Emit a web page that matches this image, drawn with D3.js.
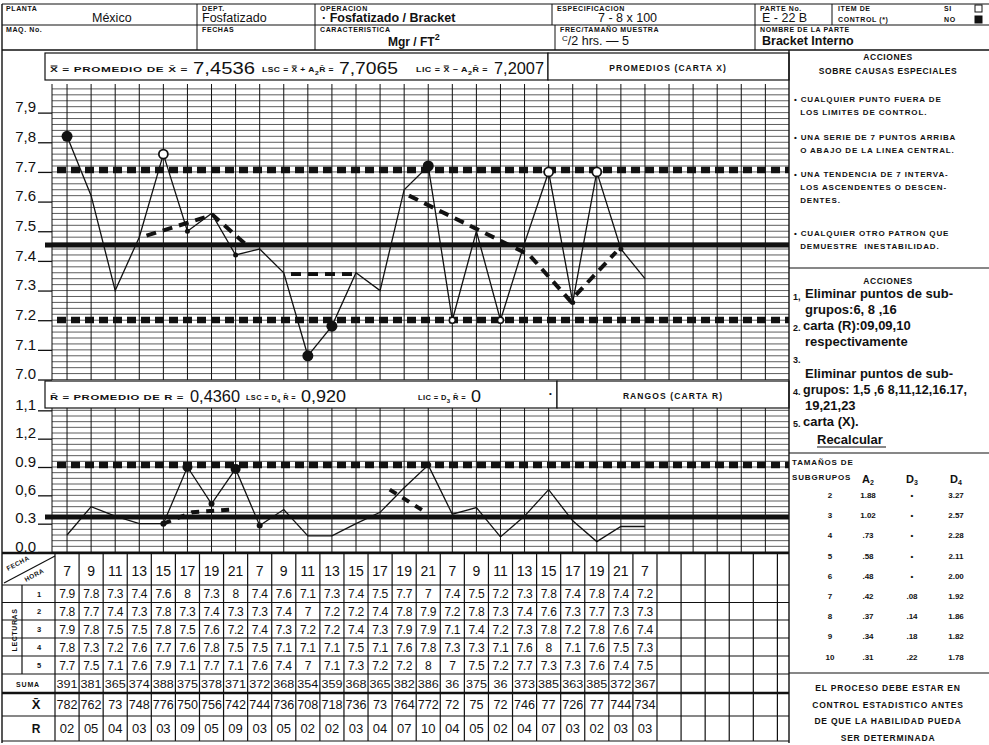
<!DOCTYPE html>
<html><head><meta charset="utf-8">
<script src="https://cdn.jsdelivr.net/npm/d3@7"></script>
<style>
body{margin:0;background:#fff;}
svg{display:block;font-family:"Liberation Sans",Arial,sans-serif;}
</style></head><body>
<svg id="c" width="989" height="745"></svg>
<script>
// ---------------- DATA ----------------
const hours=[7,9,11,13,15,17,19,21,7,9,11,13,15,17,19,21,7,9,11,13,15,17,19,21,7];
const reading1=[7.9,7.8,7.3,7.4,7.6,8,7.3,8,7.4,7.6,7.1,7.3,7.4,7.5,7.7,7,7.4,7.5,7.2,7.3,7.8,7.4,7.8,7.4,7.2];
const reading2=[7.8,7.7,7.4,7.3,7.8,7.3,7.4,7.3,7.3,7.4,7,7.2,7.2,7.4,7.8,7.9,7.2,7.8,7.3,7.4,7.6,7.3,7.7,7.3,7.3];
const reading3=[7.9,7.8,7.5,7.5,7.8,7.5,7.6,7.2,7.4,7.3,7.2,7.2,7.4,7.3,7.9,7.9,7.1,7.4,7.2,7.3,7.8,7.2,7.8,7.6,7.4];
const reading4=[7.8,7.3,7.2,7.6,7.7,7.6,7.8,7.5,7.5,7.1,7.1,7.1,7.5,7.1,7.6,7.8,7.3,7.3,7.1,7.6,8,7.1,7.6,7.5,7.3];
const reading5=[7.7,7.5,7.1,7.6,7.9,7.1,7.7,7.1,7.6,7.4,7,7.1,7.3,7.2,7.2,8,7,7.5,7.2,7.7,7.3,7.3,7.6,7.4,7.5];
const sumaLabels=["391","381","365","374","388","375","378","371","372","368","354","359","368","365","382","386","36","375","36","373","385","363","385","372","367"];
const xbarValues=[7.82,7.62,7.3,7.48,7.76,7.50,7.56,7.42,7.44,7.36,7.08,7.18,7.36,7.3,7.64,7.72,7.2,7.5,7.2,7.46,7.7,7.26,7.7,7.44,7.34];
const xbarLabels=["782","762","73","748","776","750","756","742","744","736","708","718","736","73","764","772","72","75","72","746","77","726","77","744","734"];
const rLabels=["02","05","04","03","03","09","05","09","03","05","02","02","03","04","07","10","04","05","02","04","07","03","02","03","03"];
const rPlotted=[0.18,0.48,0.38,0.3,0.3,0.9,0.51,0.88,0.28,0.45,0.17,0.17,0.3,0.42,0.68,0.92,0.4,0.47,0.16,0.38,0.66,0.33,0.11,0.27,0.27];
// control limits as drawn
const xLimits={lsc:7.7065,center:7.4536,lic:7.2007};
const rLimits={lsc:0.92,center:0.37};
// tick labels
const xTicks=[7.9,7.8,7.7,7.6,7.5,7.4,7.3,7.2,7.1,7.0];
const xTickLabels=["7,9","7,8","7.7","7.6","7.5","7.4","7.3","7.2","7.1","7.0"];
const rTicks=[1.5,1.2,0.9,0.6,0.3,0.0];
const rTickLabels=["1,1","1,2","0.9","0,6","0.3","0.0"];
// hand-drawn trend (dashed) segments [subgroup position, value]
const trendX1=[[4.3,7.485],[7.05,7.555],[8.5,7.45]];
const trendX2=[[10.3,7.356],[13.0,7.356]];
const trendX3=[[15.2,7.62],[20.2,7.42],[21.9,7.265],[23.8,7.43]];
const trendR1=[[5.0,0.3],[6.2,0.42],[7.9,0.45]];
const trendR2=[[14.4,0.66],[15.9,0.42]];
// marked points
const xMarksFilled=[1,11,12,16];
const xMarksOpen=[5,21,23];
const xMarksSmallOpen=[17,19];
const xMarksSmall=[6,8,22,24];
const rMarksFilled=[6,8];
const rMarksSmall=[5,7,9,16];
// constants table
const subgroupSizes=["2","3","4","5","6","7","8","9","10"];
const a2Values=["1.88","1.02",".73",".58",".48",".42",".37",".34",".31"];
const d3Values=["•","•","•","•","•",".08",".14",".18",".22"];
const d4Values=["3.27","2.57","2.28","2.11","2.00","1.92","1.86","1.82","1.78"];

// ---------------- DRAW ----------------
const svg=d3.select("#c");
const ink="#111";
const col=d3.scaleBand().domain(d3.range(1,31)).range([55,55+30*24.08]);
const cx=i=>col(i)+col.bandwidth()/2;
const xPos=d3.scaleLinear().domain([1,25]).range([cx(1),cx(25)]);
const yX=d3.scaleLinear().domain([xLimits.lic,xLimits.lsc]).range([320,170]);
const yR=d3.scaleLinear().domain([0,0.9]).range([552,467]);
const GX0=52, GX1=789;

function ln(g,x1,y1,x2,y2,w,dash){const l=g.append("line").attr("x1",x1).attr("y1",y1).attr("x2",x2).attr("y2",y2).attr("stroke",ink).attr("stroke-width",w||1);if(dash)l.attr("stroke-dasharray",dash);return l;}
function tx(g,x,y,s,o){o=o||{};const t=g.append("text").attr("x",x).attr("y",y).attr("fill",ink)
 .attr("font-size",o.size||10).attr("font-weight",o.weight||"normal").attr("text-anchor",o.anchor||"start")
 .attr("letter-spacing",o.ls||0).text(s);if(o.family)t.attr("font-family",o.family);if(o.len)t.attr("textLength",o.len).attr("lengthAdjust","spacingAndGlyphs");return t;}
// text made of parts; a part ending in "_" is drawn as a subscript
function rich(g,x,y,parts,o){const t=tx(g,x,y,"",o);let sub=false;
  parts.forEach(p=>{const isSub=p.startsWith("_");const s=isSub?p.slice(1):p;
    const ts=t.append("tspan").text(s);
    if(isSub&&!sub){ts.attr("dy",2.5).attr("font-size",(o.size||10)*0.8);sub=true;}
    else if(!isSub&&sub){ts.attr("dy",-2.5);sub=false;}
  });return t;}

const G=svg.append("g");
// ---- header ----
ln(G,2,4,989,4,1.2); ln(G,2,25,989,25,1); ln(G,2,50,989,50,1.4);
ln(G,2,4,2,743,1.4);
[197,315,552,755,832].forEach(x=>ln(G,x,4,x,25,1));
[197,315,555,755].forEach(x=>ln(G,x,25,x,50,1));
const lab={size:7,weight:"bold",ls:0.6};
tx(G,6,11,"PLANTA",lab); tx(G,202,11,"DEPT.",lab); tx(G,320,11,"OPERACION",lab);
tx(G,557,11,"ESPECIFICACION",lab); tx(G,760,11,"PARTE No.",lab);
tx(G,838,11,"ITEM DE",lab); tx(G,838,22,"CONTROL  (*)",lab);
tx(G,944,11,"SI",lab); tx(G,944,22,"NO",lab);
G.append("rect").attr("x",975).attr("y",5).attr("width",7).attr("height",7).attr("fill","none").attr("stroke",ink);
G.append("rect").attr("x",975).attr("y",16).attr("width",7).attr("height",7).attr("fill",ink).attr("stroke",ink);
tx(G,6,32,"MAQ. No.",lab); tx(G,202,32,"FECHAS",lab); tx(G,320,32,"CARACTERISTICA",lab);
tx(G,560,32,"FREC/TAMAÑO MUESTRA",lab); tx(G,760,32,"NOMBRE DE LA PARTE",lab);
const val={size:12.5};
tx(G,92,22,"México",val); tx(G,202,22,"Fosfatizado",val); tx(G,322,22,"·  Fosfatizado / Bracket",{size:12.5,weight:"bold"});
tx(G,598,22,"7 - 8 x 100",val); tx(G,762,22,"E - 22 B",val);
const mg=tx(G,388,46,"Mgr / FT",{size:12,weight:"bold"}); mg.append("tspan").attr("dy",-6).attr("font-size",9).text("2");
const fr=tx(G,562,45,"",{size:12.5}); fr.append("tspan").attr("dy",-4).attr("font-size",8).text("C");
fr.append("tspan").attr("dy",4).text("/2 hrs. — 5");
tx(G,762,45,"Bracket  Interno",{size:12.5,weight:"bold"});

// ---- X chart ----
const gx=svg.append("g");
d3.range(0,50).map(i=>7.0+i*0.02).forEach(v=>ln(gx,GX0,yX(v),GX1,yX(v),0.8).attr("stroke","#333"));
d3.range(1,31).forEach(i=>ln(gx,cx(i),84,cx(i),380,1));
ln(gx,GX0,84,GX0,380,1);
// info boxes
gx.append("rect").attr("x",45).attr("y",53).attr("width",503).attr("height",27).attr("fill","#fff").attr("stroke",ink).attr("stroke-width",1.2);
gx.append("rect").attr("x",548).attr("y",53).attr("width",241).attr("height",27).attr("fill","#fff").attr("stroke",ink).attr("stroke-width",1.2);
const s7={size:7.5,weight:"bold",ls:0.4};
const big={size:17,family:"'Liberation Sans', sans-serif",weight:"normal"};
tx(gx,50,72,"X\u033F = PROMEDIO DE X\u0304 =",Object.assign({len:138},s7));
tx(gx,193,74,"7,4536",Object.assign({len:62},big));
rich(gx,262,72,["LSC = X\u033F + A","_2","R\u0304 ="],Object.assign({len:72},s7));
tx(gx,339,74,"7,7065",Object.assign({len:59},big));
rich(gx,416,72,["LIC = X\u033F \u2212 A","_2","R\u0304 ="],Object.assign({len:72},s7));
tx(gx,494,74,"7,2007",Object.assign({len:50},big));
tx(gx,668,71,"PROMEDIOS (CARTA X)",{size:8.5,weight:"bold",anchor:"middle",ls:1.1});
// axis
const axX=d3.axisLeft(yX).tickValues(xTicks).tickFormat((d,i)=>xTickLabels[i]).tickSize(14).tickPadding(2);
const gAx=svg.append("g").attr("transform",`translate(${GX0},0)`).call(axX);
gAx.select(".domain").remove();
gAx.selectAll("line").attr("stroke",ink).attr("stroke-width",1.3);
gAx.selectAll("text").attr("font-size",15).attr("fill",ink).attr("dy","-0.05em").attr("font-family","Liberation Sans");
// limits
ln(gx,57,yX(xLimits.lsc),GX1,yX(xLimits.lsc),6.5,"9,5");
ln(gx,57,yX(xLimits.lic),GX1,yX(xLimits.lic),6.5,"9,5");
ln(gx,45,yX(xLimits.center),GX1,yX(xLimits.center),5);
// trend dashed
const lT=d3.line().x(d=>xPos(d[0])).y(d=>yX(d[1]));
[trendX1,trendX2,trendX3].forEach(s=>gx.append("path").attr("d",lT(s)).attr("fill","none").attr("stroke",ink).attr("stroke-width",4).attr("stroke-dasharray","10,7"));
// data line
const lX=d3.line().x((d,i)=>xPos(i+1)).y(d=>yX(d));
gx.append("path").attr("d",lX(xbarValues)).attr("fill","none").attr("stroke",ink).attr("stroke-width",1.3);
xMarksFilled.forEach(i=>gx.append("circle").attr("cx",xPos(i)).attr("cy",yX(xbarValues[i-1])).attr("r",5.5).attr("fill",ink));
xMarksOpen.forEach(i=>gx.append("circle").attr("cx",xPos(i)).attr("cy",yX(xbarValues[i-1])).attr("r",4.5).attr("fill","#fff").attr("stroke",ink).attr("stroke-width",1.8));
xMarksSmallOpen.forEach(i=>gx.append("circle").attr("cx",xPos(i)).attr("cy",yX(xbarValues[i-1])).attr("r",3).attr("fill","#fff").attr("stroke",ink).attr("stroke-width",1.6));
xMarksSmall.forEach(i=>gx.append("circle").attr("cx",xPos(i)).attr("cy",yX(xbarValues[i-1])).attr("r",2.5).attr("fill",ink));

// ---- R chart ----
const gr=svg.append("g");
d3.range(0,26).map(i=>i*0.06).forEach(v=>ln(gr,GX0,yR(v),GX1,yR(v),0.8).attr("stroke","#333"));
d3.range(1,31).forEach(i=>ln(gr,cx(i),408,cx(i),553,1));
ln(gr,GX0,408,GX0,553,1);
gr.append("rect").attr("x",45).attr("y",381).attr("width",512).attr("height",27).attr("fill","#fff").attr("stroke",ink).attr("stroke-width",1.2);
gr.append("rect").attr("x",557).attr("y",381).attr("width",232).attr("height",27).attr("fill","#fff").attr("stroke",ink).attr("stroke-width",1.2);
tx(gr,50,400,"R\u0304 = PROMEDIO DE R =",Object.assign({len:134},s7));
tx(gr,190,402,"0,4360",Object.assign({len:50},big));
rich(gr,246,400,["LSC = D","_4"," R\u0304 ="],Object.assign({len:50},s7));
tx(gr,301,402,"0,920",Object.assign({len:45},big));
rich(gr,418,400,["LIC = D","_3"," R\u0304 ="],Object.assign({len:48},s7));
tx(gr,471,402,"0",Object.assign({len:10},big));
tx(gr,549,396,"•",{size:8});
tx(gr,673,399,"RANGOS (CARTA R)",{size:8.5,weight:"bold",anchor:"middle",ls:1.1});
const axR=d3.axisLeft(yR).tickValues(rTicks).tickFormat((d,i)=>rTickLabels[i]).tickSize(14).tickPadding(2);
const gAr=svg.append("g").attr("transform",`translate(${GX0},0)`).call(axR);
gAr.select(".domain").remove();
gAr.selectAll("line").attr("stroke",ink).attr("stroke-width",1.3);
gAr.selectAll("text").attr("font-size",15).attr("fill",ink).attr("dy","-0.05em").attr("font-family","Liberation Sans");
ln(gr,57,yR(rLimits.lsc),GX1,yR(rLimits.lsc),6.5,"9,5");
ln(gr,45,yR(rLimits.center),GX1,yR(rLimits.center),5);
const lTR=d3.line().x(d=>xPos(d[0])).y(d=>yR(d[1]));
[trendR1,trendR2].forEach(s=>gr.append("path").attr("d",lTR(s)).attr("fill","none").attr("stroke",ink).attr("stroke-width",4).attr("stroke-dasharray","8,7"));
const lR=d3.line().x((d,i)=>xPos(i+1)).y(d=>yR(d));
gr.append("path").attr("d",lR(rPlotted)).attr("fill","none").attr("stroke",ink).attr("stroke-width",1.3);
rMarksFilled.forEach(i=>gr.append("circle").attr("cx",xPos(i)).attr("cy",yR(rPlotted[i-1])).attr("r",5).attr("fill",ink));
rMarksSmall.forEach(i=>gr.append("circle").attr("cx",xPos(i)).attr("cy",yR(rPlotted[i-1])).attr("r",3).attr("fill",ink));

// ---- table ----
const gt=svg.append("g");
const rowY=[553,585,602.5,620,638,656,674,693,716,741];
rowY.forEach((y,i)=>ln(gt,2,y,GX1,y,(i===0||i===7)?2.5:1.2));
ln(gt,55,553,55,741,1.2);
d3.range(2,31).forEach(i=>ln(gt,col(i),553,col(i),741,1.2));
ln(gt,col(30)+col.bandwidth(),553,col(30)+col.bandwidth(),741,1.2);
ln(gt,22,585,22,674,1.2);
ln(gt,4,583,55,556,1.2);
tx(gt,8,571,"FECHA",{size:6.5,weight:"bold",ls:0.5}).attr("transform","rotate(-28,8,571)");
tx(gt,26,582,"HORA",{size:6.5,weight:"bold",ls:0.5}).attr("transform","rotate(-28,26,582)");
tx(gt,15,630,"LECTURAS",{size:7,weight:"bold",anchor:"middle",ls:0.6}).attr("transform","rotate(-90,15,630)").attr("dy","0.35em");
["1","2","3","4","5"].forEach((s,i)=>tx(gt,39,(rowY[i+1]+rowY[i+2])/2+3,s,{size:7.5,weight:"bold",anchor:"middle"}));
tx(gt,28,687,"SUMA",{size:7,weight:"bold",anchor:"middle",ls:0.8});
tx(gt,36,709,"X\u0304",{size:13,weight:"bold",anchor:"middle"});
tx(gt,36,733,"R",{size:12,weight:"bold",anchor:"middle"});
hours.forEach((h,i)=>tx(gt,cx(i+1),576,String(h),{size:14,anchor:"middle"}));
[reading1,reading2,reading3,reading4,reading5].forEach((arr,r)=>{
  arr.forEach((v,i)=>tx(gt,cx(i+1),(rowY[r+1]+rowY[r+2])/2+4.5,String(v),{size:12,anchor:"middle",ls:-0.3}));
});
sumaLabels.forEach((s,i)=>tx(gt,cx(i+1),688,s,{size:11.5,anchor:"middle",len:s.length>2?21:14}));
xbarLabels.forEach((s,i)=>tx(gt,cx(i+1),709,s,{size:12,anchor:"middle",len:s.length>2?21:14}));
rLabels.forEach((s,i)=>tx(gt,cx(i+1),733,s,{size:13,anchor:"middle"}));

// ---- right panel ----
const gp=svg.append("g");
ln(gp,789,50,789,743,1.4);
ln(gp,789,268,989,268,1.2);
ln(gp,789,453,989,453,1.2);
ln(gp,789,673,989,673,1.2);
const b8={size:8,weight:"bold",ls:0.85};
tx(gp,888,60,"ACCIONES",{size:8.5,weight:"bold",anchor:"middle",ls:0.6});
tx(gp,888,74,"SOBRE  CAUSAS ESPECIALES",{size:8.5,weight:"bold",anchor:"middle",ls:0.6});
const bullets=[[102,"• CUALQUIER PUNTO FUERA DE"],[115,"  LOS LIMITES DE CONTROL."],
 [140,"• UNA SERIE DE 7 PUNTOS ARRIBA"],[153,"  O ABAJO DE LA LINEA CENTRAL."],
 [177,"• UNA TENDENCIA DE 7 INTERVA-"],[190,"  LOS ASCENDENTES O DESCEN-"],[203,"  DENTES."],
 [236,"• CUALQUIER OTRO PATRON QUE"],[249,"  DEMUESTRE  INESTABILIDAD."]];
bullets.forEach(b=>tx(gp,794,b[0],b[1],b8).style("white-space","pre"));
tx(gp,888,284,"ACCIONES",{size:8.5,weight:"bold",anchor:"middle",ls:0.6});
const acc={size:13,weight:"bold"};
tx(gp,793,300,"1,",{size:9,weight:"bold"}); tx(gp,805,298,"Eliminar puntos de sub-",acc);
tx(gp,805,314,"grupos:6, 8 ,16",acc);
tx(gp,793,331,"2.",{size:9,weight:"bold"}); tx(gp,803,330,"carta (R):09,09,10",acc);
tx(gp,805,346,"respectivamente",acc);
tx(gp,793,363,"3.",{size:9,weight:"bold"});
tx(gp,805,378,"Eliminar puntos de sub-",acc);
tx(gp,793,395,"4.",{size:9,weight:"bold"}); tx(gp,803,394,"grupos: 1,5 ,6 8,11,12,16.17,",{size:12.5,weight:"bold"});
tx(gp,805,410,"19,21,23",acc);
tx(gp,793,427,"5.",{size:9,weight:"bold"}); tx(gp,803,426,"carta (X).",acc);
tx(gp,817,444,"Recalcular",acc); ln(gp,817,447,886,447,1.2);
tx(gp,792,465,"TAMAÑOS DE",b8); tx(gp,792,480,"SUBGRUPOS",b8);
const hdr={size:11,weight:"bold",anchor:"middle"};
[[868,"A"],[912,"D"],[956,"D"]].forEach((h,i)=>{const t=tx(gp,h[0],483,h[1],hdr);t.append("tspan").attr("font-size",7).attr("dy",2).text(["2","3","4"][i]);});
subgroupSizes.forEach((n,i)=>{
  const y=498+i*20.2;
  [[830,n],[868,a2Values[i]],[912,d3Values[i]],[956,d4Values[i]]].forEach(c=>tx(gp,c[0],y,c[1],{size:8,weight:"bold",anchor:"middle"}));
});
["EL PROCESO DEBE ESTAR EN","CONTROL ESTADISTICO ANTES","DE QUE LA HABILIDAD PUEDA","SER DETERMINADA"].forEach((s,i)=>
  tx(gp,888,691+i*16.5,s,{size:8.5,weight:"bold",anchor:"middle",ls:0.8}));
</script></body></html>
